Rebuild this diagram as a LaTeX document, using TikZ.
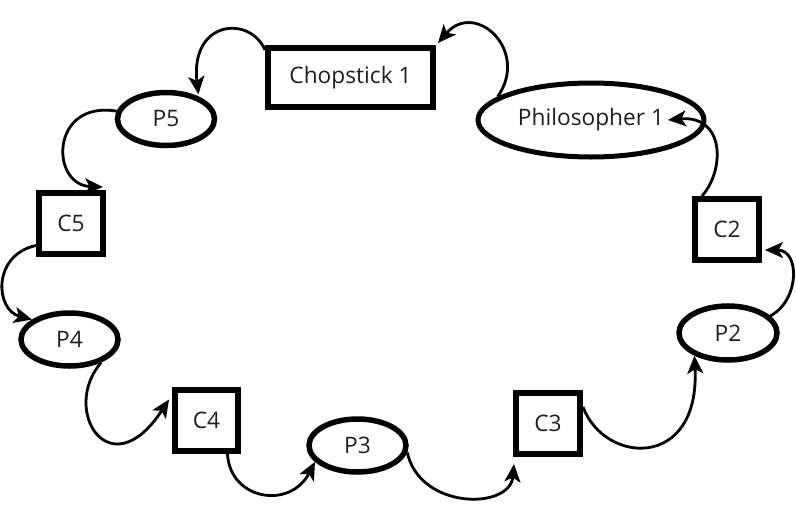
\documentclass[tikz,border=0pt]{standalone}
\usepackage{fontspec}
\setmainfont{Open Sans}
\usetikzlibrary{shapes.geometric,arrows.meta}
\begin{document}
\begin{tikzpicture}[x=1pt,y=-1pt,
  lbl/.style={font=\fontsize{22.7}{27}\selectfont,text=black!88},
  box/.style={lbl,draw,line width=6pt,fill=white,inner sep=0pt,minimum width=64pt,minimum height=61pt},
  oval/.style={lbl,ellipse,draw,line width=5.5pt,fill=white,inner sep=0pt,minimum width=97pt,minimum height=53pt},
  link/.style={line width=2.8pt,-{Stealth[length=18pt,width=16pt,inset=4.5pt]}}]
\useasboundingbox (0,0) rectangle (796,528);
% nodes
\node[box,minimum width=165pt,minimum height=59pt] (ch1) at (350.5,77.5) {Chopstick 1};
\node[oval,minimum width=226pt,minimum height=74pt,line width=5pt] (ph1) at (591,120) {Philosopher 1};
\node[oval] (p5) at (166,119) {P5};
\node[box] (c5) at (71,223.5) {C5};
\node[oval] (p4) at (69.5,339.5) {P4};
\node[box,minimum width=63pt] (c4) at (206.5,420.5) {C4};
\node[oval] (p3) at (357.5,445.5) {P3};
\node[box] (c3) at (548,423.5) {C3};
\node[oval,minimum width=98pt,minimum height=54pt] (p2) at (728,333) {P2};
\node[box] (c2) at (727,229.5) {C2};
% connectors
\draw[link] ([yshift=-5pt]ch1.north west) .. controls (250,15) and (190,20) .. ([yshift=2pt]p5.35);
\draw[link] (ph1.166) .. controls (530,50) and (475,0) .. ([xshift=2pt,yshift=2pt]ch1.north east);
\draw[link] ([xshift=10pt]c2.north west) .. controls (725,170) and (725,115) .. ([xshift=77pt]ph1.center);
\draw[link] (p2.22) .. controls (800,300) and (800,250) .. ([xshift=3pt,yshift=13pt]c2.south east);
\draw[link] ([yshift=16.5pt]c3.east) .. controls (605,465) and (700,470) .. (p2.214);
\draw[link] (p3.-8) .. controls (420,510) and (510,510) .. ([xshift=1pt,yshift=-7pt]c3.south west);
\draw[link] ([xshift=21pt]c4.south) .. controls (230,500) and (290,510) .. (p3.201);
\draw[link] (p4.-36) .. controls (60,410) and (110,490) .. ([xshift=-3pt,yshift=21pt]c4.west);
\draw[link] ([yshift=-22pt]c5.west) .. controls (-8,255) and (-5,310) .. (p4.152);
\draw[link] (p5.171) .. controls (50,100) and (50,185) .. ([xshift=-3pt,yshift=3pt]c5.north east);
\end{tikzpicture}
\end{document}
